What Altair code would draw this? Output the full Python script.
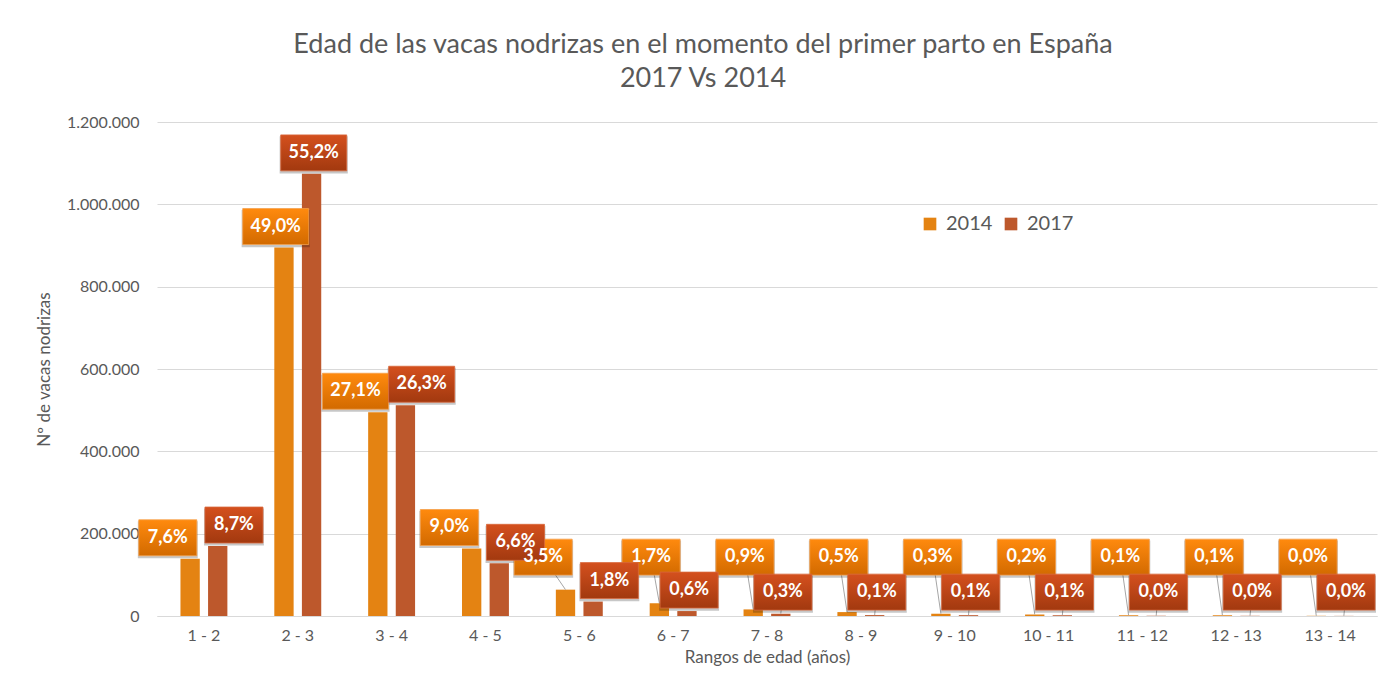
import altair as alt
import pandas as pd

categories = ["1 - 2", "2 - 3", "3 - 4", "4 - 5", "5 - 6", "6 - 7", "7 - 8",
              "8 - 9", "9 - 10", "10 - 11", "11 - 12", "12 - 13", "13 - 14"]
series = ["2014", "2017"]
values_2014 = [139000, 895000, 495000, 164000, 64000, 31000, 16000, 9500, 5500, 3600, 1800, 1800, 500]
values_2017 = [170000, 1074000, 512000, 128000, 35000, 12000, 5500, 2200, 2000, 1800, 600, 500, 300]
labels_2014 = ["7,6%", "49,0%", "27,1%", "9,0%", "3,5%", "1,7%", "0,9%", "0,5%", "0,3%", "0,2%", "0,1%", "0,1%", "0,0%"]
labels_2017 = ["8,7%", "55,2%", "26,3%", "6,6%", "1,8%", "0,6%", "0,3%", "0,1%", "0,1%", "0,1%", "0,0%", "0,0%", "0,0%"]
y_ticks = [0, 200000, 400000, 600000, 800000, 1000000, 1200000]
colors = ["#E48312", "#BD582C"]

rows = []
for i, c in enumerate(categories):
    rows.append({"cat": c, "serie": "2014", "value": values_2014[i], "label": labels_2014[i]})
    rows.append({"cat": c, "serie": "2017", "value": values_2017[i], "label": labels_2017[i]})
df = pd.DataFrame(rows)

GREY = "#595959"
FONT = "Lato"

x_enc = alt.X("cat:N", sort=categories,
              scale=alt.Scale(paddingInner=0.5, paddingOuter=0.25),
              axis=alt.Axis(title="Rangos de edad (años)", labelAngle=0, ticks=False,
                            domainColor="#D9D9D9", labelPadding=11, titlePadding=6,
                            labelFontSize=16, titleFontSize=17))
xo_enc = alt.XOffset("serie:N", sort=series, scale=alt.Scale(paddingInner=0.3))
# label offsets expressed in half-band units (domain -1..1 spans the group band)
lx_scale = alt.Scale(domain=[-1, 1], nice=False, zero=False)

base = alt.Chart(df).transform_calculate(
    floor="datum.serie == '2014' ? 143000 : 58000",
).transform_calculate(
    labely="max(datum.value + 51000, datum.floor)",
    len="length(datum.label)",
).transform_joinaggregate(
    ymin="min(labely)", ymax="max(labely)", groupby=["cat"],
).transform_calculate(
    close="(datum.ymax - datum.ymin) < 75000",
    leader="datum.labely > datum.value + 51500",
    barx="datum.serie == '2014' ? -0.588 : 0.588",
).transform_calculate(
    lx="datum.serie == '2014' ? (datum.close ? -1.54 : -0.94) : (datum.close ? 1.28 : 0.68)",
)

bars = base.mark_bar().encode(
    x=x_enc,
    xOffset=xo_enc,
    y=alt.Y("value:Q", scale=alt.Scale(domain=[0, 1200000]),
            axis=alt.Axis(values=y_ticks, format=",d", title="Nº de vacas nodrizas",
                          grid=True, gridColor="#D9D9D9", domain=False, ticks=False,
                          labelPadding=18, labelFontSize=16, titleFontSize=17,
                          titleX=-104)),
    color=alt.Color("serie:N", scale=alt.Scale(domain=series, range=colors),
                    legend=alt.Legend(title=None, orient="none", legendX=763, legendY=92,
                                      direction="horizontal", symbolType="square",
                                      symbolSize=160, symbolStrokeWidth=0,
                                      labelFontSize=20, labelColor=GREY, labelFont=FONT,
                                      columnPadding=8, labelOffset=6)),
)

leaders = base.transform_filter("datum.leader").transform_fold(
    ["pa", "pb"], as_=["pt", "pv"]
).transform_calculate(
    px="datum.pt == 'pa' ? datum.barx : datum.lx",
    py="datum.pt == 'pa' ? datum.value : datum.labely",
).mark_line(color="#A6A6A6", strokeWidth=1).encode(
    x=x_enc,
    xOffset=alt.XOffset("px:Q", scale=lx_scale),
    y="py:Q",
    detail=["cat:N", "serie:N"],
    order=alt.Order("pt:N"),
)

p5 = "M-1,-0.545L1,-0.545L1,0.545L-1,0.545Z"
p4 = "M-0.879,-0.545L0.879,-0.545L0.879,0.545L-0.879,0.545Z"
shape_enc = alt.Shape("len:O", scale=alt.Scale(domain=[4, 5], range=[p4, p5]), legend=None)
lx_enc = alt.XOffset("lx:Q", scale=lx_scale)

shadow = base.mark_point(filled=True, color="#000000", opacity=0.22, size=4650, yOffset=2).encode(
    x=x_enc, xOffset=lx_enc, y="labely:Q", shape=shape_enc,
)

grad14 = {"gradient": "linear", "x1": 0, "y1": 0, "x2": 0, "y2": 1,
          "stops": [{"offset": 0, "color": "#FF8A0E"}, {"offset": 1, "color": "#D26A00"}]}
grad17 = {"gradient": "linear", "x1": 0, "y1": 0, "x2": 0, "y2": 1,
          "stops": [{"offset": 0, "color": "#D4501E"}, {"offset": 1, "color": "#A2390F"}]}

box14 = base.mark_point(filled=True, fill=grad14, opacity=1, size=4356,
                        stroke="#F5A04A", strokeWidth=0.8).encode(
    x=x_enc, xOffset=lx_enc, y="labely:Q", shape=shape_enc,
).transform_filter("datum.serie == '2014'")

box17 = base.mark_point(filled=True, fill=grad17, opacity=1, size=4356,
                        stroke="#D8683C", strokeWidth=0.8).encode(
    x=x_enc, xOffset=lx_enc, y="labely:Q", shape=shape_enc,
).transform_filter("datum.serie == '2017'")

texts = base.mark_text(color="white", font=FONT, fontWeight="bold", fontSize=18,
                       baseline="middle", align="center").encode(
    x=x_enc, xOffset=lx_enc, y="labely:Q", text="label:N",
)

chart = alt.layer(bars, leaders, shadow, box14, box17, texts).resolve_scale(
    xOffset="independent"
).properties(
    width=1220, height=494,
    autosize=alt.AutoSizeParams(type="none"),
    padding={"left": 149, "top": 114, "right": 4, "bottom": 52},
    title=alt.TitleParams(
        text=["Edad de las vacas nodrizas en el momento del primer parto en España", "2017 Vs 2014"],
        fontSize=27, font=FONT, fontWeight="normal", color=GREY, anchor="middle",
        dx=-64, offset=21, lineHeight=34),
).configure(
    font=FONT,
    locale={"number": {"decimal": ",", "thousands": ".", "grouping": [3], "currency": ["", " €"]}},
).configure_view(stroke=None).configure_axis(
    labelColor=GREY, titleColor=GREY, labelFont=FONT, titleFont=FONT, titleFontWeight="normal",
)

chart.save("out.html", embed_options={"renderer": "svg", "actions": False})
